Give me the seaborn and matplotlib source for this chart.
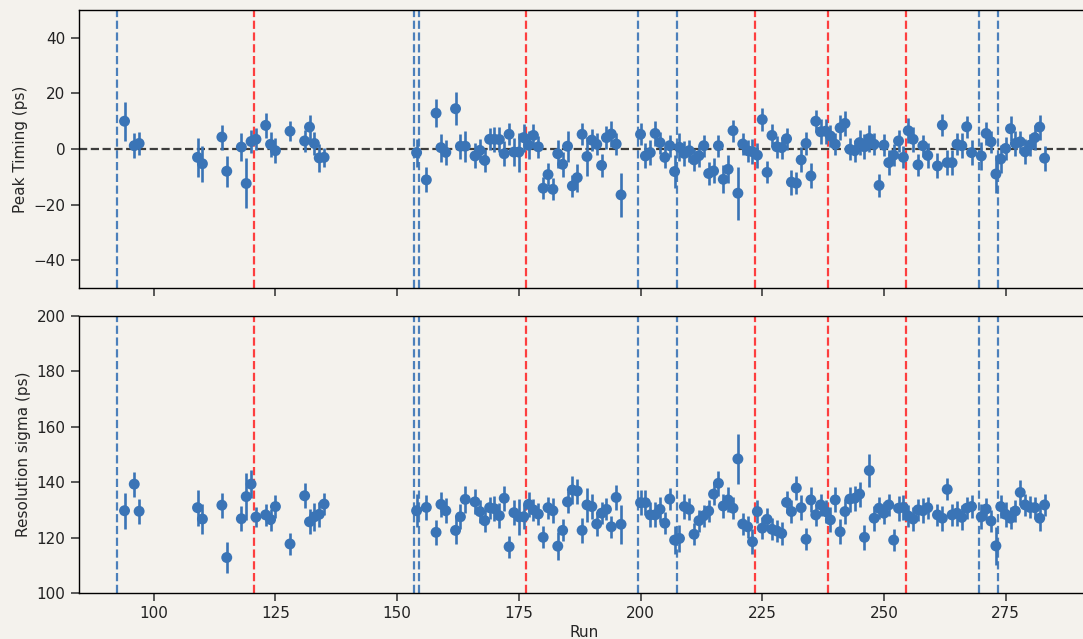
import matplotlib
matplotlib.use("Agg")
import matplotlib.pyplot as plt
import seaborn as sns

# run numbers shared by both panels
runs = [94, 96, 97, 109, 110, 114, 115, 118, 119, 120,
        121, 123, 124, 125, 128, 131, 132, 133, 134, 135,
        154, 156, 158, 159, 160, 162, 163, 164, 166, 167,
        168, 169, 170, 171, 172, 173, 174, 175, 176, 177,
        178, 179, 180, 181, 182, 183, 184, 185, 186, 187,
        188, 189, 190, 191, 192, 193, 194, 195, 196, 200,
        201, 202, 203, 204, 205, 206, 207, 208, 209, 210,
        211, 212, 213, 214, 215, 216, 217, 218, 219, 220,
        221, 222, 223, 224, 225, 226, 227, 228, 229, 230,
        231, 232, 233, 234, 235, 236, 237, 238, 239, 240,
        241, 242, 243, 244, 245, 246, 247, 248, 249, 250,
        251, 252, 253, 254, 255, 256, 257, 258, 259, 261,
        262, 263, 264, 265, 266, 267, 268, 270, 271, 272,
        273, 274, 275, 276, 277, 278, 279, 280, 281, 282,
        283]

peak = [10.0, 1.2, 2.0, -3.0, -5.3, 4.3, -8.0, 0.7, -12.4, 2.7,
        3.5, 8.5, 1.7, -0.6, 6.4, 2.9, 7.9, 2.0, -3.2, -3.0,
        -1.3, -11.1, 12.9, 0.5, -1.2, 14.5, 1.0, 1.0, -2.5, -0.5,
        -4.1, 3.5, 3.5, 3.4, -1.7, 5.3, -1.1, -1.1, 4.1, 1.4,
        4.9, 0.8, -14.1, -9.2, -14.5, -1.7, -5.5, 1.0, -13.3, -10.3,
        5.3, -2.7, 3.2, 1.7, -5.9, 4.1, 5.4, 1.8, -16.5, 5.3,
        -2.5, -1.3, 5.6, 2.3, -3.0, 1.2, -8.1, 0.6, -1.6, -0.6,
        -3.9, -2.4, 1.2, -8.8, -7.9, 1.2, -10.9, -7.3, 6.6, -15.9,
        1.8, -0.6, -1.0, -2.2, 10.6, -8.4, 4.9, 0.8, 0.5, 3.7,
        -11.9, -12.3, -3.9, 2.0, -9.7, 10.0, 6.2, 6.4, 4.7, 1.7,
        7.6, 9.2, -0.1, -0.6, 2.3, 0.8, 3.8, 1.7, -13.1, 1.4,
        -4.9, -2.2, 2.9, -3.0, 6.6, 3.5, -5.7, 1.2, -2.3, -6.1,
        8.6, -4.9, -4.9, 1.7, 1.2, 8.0, -1.3, -2.5, 5.6, 2.6,
        -9.0, -3.6, 0.2, 7.3, 2.0, 2.6, -1.0, 1.4, 4.1, 7.9,
        -3.3]

peak_err = [7, 4.5, 4, 7, 6.5, 4.5, 5.5, 5, 9, 4,
            4, 4.5, 4.5, 4.5, 3.5, 4, 4.5, 4, 5, 3.5,
            5, 4.5, 5, 5, 4.5, 6, 4.5, 5.5, 4.5, 4,
            4, 4, 4.5, 4.5, 4.5, 4, 5, 7, 5, 5,
            4, 4, 4, 4, 4, 5, 4.5, 5.5, 4, 5,
            4, 7, 4, 4, 4, 4, 4.5, 4, 8, 4,
            4.5, 4.5, 4.5, 4, 4, 4, 6, 5, 4.5, 4,
            4, 4, 4, 4, 4.5, 4, 5, 5, 4, 9.5,
            4, 4, 4.5, 4.5, 4, 4, 4, 4, 4, 4,
            4.5, 4, 4.5, 4, 4.5, 4, 4.5, 4.5, 4, 4,
            4.5, 4.5, 4, 4, 4.5, 4.5, 5, 4, 4, 4,
            4.5, 4, 4, 4, 4.5, 4.5, 4, 4, 4.5, 4.5,
            4, 4.5, 4.5, 4, 4.5, 4, 4.5, 5, 4, 4,
            7, 5, 4, 4.5, 4.5, 4, 4.5, 4, 4.5, 4.5,
            4.5]

sigma = [129.7, 139.3, 129.5, 130.8, 126.7, 131.7, 112.8, 126.8, 134.8, 139.3,
         127.4, 128.2, 126.5, 131.2, 117.7, 135.1, 125.7, 127.5, 128.4, 132.1,
         129.7, 130.9, 121.9, 132.0, 129.7, 122.6, 127.5, 133.8, 132.9, 129.4,
         126.1, 130.8, 130.4, 127.9, 134.2, 116.7, 129.0, 127.5, 127.5, 132.0,
         130.0, 128.5, 120.1, 130.8, 129.7, 116.9, 122.6, 132.9, 137.2, 136.8,
         122.6, 131.8, 131.2, 124.9, 128.8, 130.2, 123.9, 134.5, 124.8, 132.6,
         132.6, 128.2, 128.2, 130.2, 125.2, 133.9, 119.1, 119.7, 131.2, 130.2,
         121.2, 126.1, 127.9, 129.6, 135.7, 139.6, 131.4, 133.6, 130.6, 148.4,
         124.9, 123.9, 118.5, 129.4, 123.4, 126.6, 123.0, 122.4, 121.5, 132.7,
         129.4, 137.9, 130.8, 119.4, 133.6, 128.2, 131.8, 129.4, 126.4, 133.6,
         122.1, 129.4, 133.9, 134.2, 135.7, 120.1, 144.2, 127.0, 130.6, 128.8,
         131.8, 119.1, 130.6, 130.9, 127.8, 126.7, 130.0, 129.7, 130.8, 128.2,
         127.0, 137.4, 128.2, 128.8, 127.3, 130.6, 131.2, 127.5, 130.3, 126.0,
         117.0, 131.2, 128.4, 127.0, 129.6, 136.3, 131.8, 130.9, 130.8, 127.0,
         131.8]

sigma_err = [6.5, 4.5, 4.5, 6.5, 5.5, 4.5, 5.5, 4.5, 8.5, 5,
             3.5, 4, 4, 4, 4, 4.5, 4.5, 5, 4.5, 4,
             6, 4.5, 4.5, 4.5, 4.5, 5, 4.5, 5, 4.5, 4,
             4, 4, 4.5, 4.5, 4.5, 4, 4.5, 6.5, 4.5, 4.5,
             4, 4, 4, 4, 4.5, 5, 4, 4, 5, 4.5,
             4.5, 6, 4.5, 4.5, 4, 4, 4, 4.5, 7, 4.5,
             4.5, 4.5, 4.5, 4.5, 4, 4, 5, 5, 4.5, 4,
             4, 4, 4, 4, 4, 4.5, 4.5, 4.5, 4, 9,
             4, 4, 4.5, 4, 4, 4, 4, 4, 4, 4,
             4, 4.5, 4.5, 4, 4.5, 4, 4, 4, 4.5, 4.5,
             4.5, 4.5, 4.5, 4.5, 4.5, 4.5, 6, 4.5, 4, 4,
             4, 4, 4.5, 4.5, 4, 4.5, 4, 4.5, 4, 4,
             4.5, 4, 4, 4.5, 4.5, 4, 4, 4.5, 4, 4,
             7, 4, 4.5, 4, 4, 4.5, 4, 4, 4, 4.5,
             4]

blue_lines = [92.5, 153.5, 154.5, 199.5, 207.5, 269.5, 273.5]
red_lines = [120.5, 176.5, 223.5, 238.5, 254.5]

BG = "#f4f2ed"
PT = "#3a74b6"

sns.set_theme(style="ticks")
plt.rcParams["font.family"] = ["DejaVu Sans"]
plt.rcParams["font.size"] = 11
plt.rcParams["axes.edgecolor"] = "black"

fig = plt.figure(figsize=(10.83, 6.39), dpi=100, facecolor=BG)
ax1 = fig.add_axes([0.0725, 0.5493, 0.9345, 0.4350])
ax2 = fig.add_axes([0.0725, 0.0720, 0.9345, 0.4335], sharex=ax1)


def draw_panel(ax, y, yerr):
    ax.set_facecolor(BG)
    ax.errorbar(runs, y, yerr=yerr, fmt="none", ecolor=PT, elinewidth=1.9, zorder=3)
    sns.scatterplot(x=runs, y=y, ax=ax, color=PT, s=62, edgecolor="none", zorder=4)
    for xv in blue_lines:
        ax.axvline(xv, color=PT, ls="--", lw=1.6, alpha=0.9, zorder=2)
    for xv in red_lines:
        ax.axvline(xv, color="#ff2020", ls="--", lw=1.6, alpha=0.85, zorder=2)
    for s in ax.spines.values():
        s.set_linewidth(1.0)
        s.set_color("black")
    ax.tick_params(labelsize=11, color="#444444", labelcolor="#222222")


draw_panel(ax1, peak, peak_err)
ax1.axhline(0, color="black", ls="--", lw=1.6, alpha=0.75, zorder=2)
ax1.set_ylim(-50, 50)
ax1.set_yticks([-40, -20, 0, 20, 40])
ax1.set_ylabel("Peak Timing (ps)", fontsize=11)
ax1.tick_params(labelbottom=False)

draw_panel(ax2, sigma, sigma_err)
ax2.set_ylim(100, 200)
ax2.set_yticks([100, 120, 140, 160, 180, 200])
ax2.set_ylabel("Resolution sigma (ps)", fontsize=11)
ax2.set_xlabel("Run", fontsize=11, labelpad=3)
ax2.set_xlim(84.55, 292.45)
ax2.set_xticks([100, 125, 150, 175, 200, 225, 250, 275])

fig.savefig("out.png", dpi=100, facecolor=BG)
